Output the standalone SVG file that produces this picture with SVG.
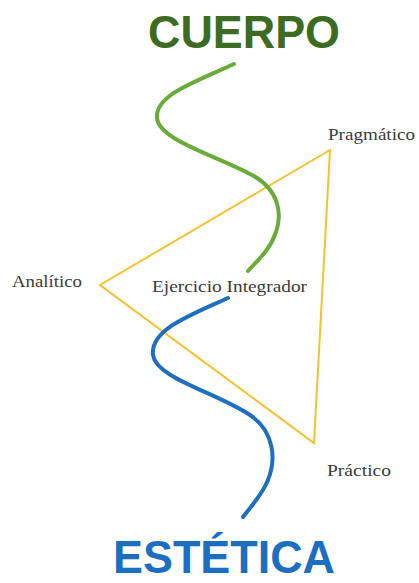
<svg xmlns="http://www.w3.org/2000/svg" width="419" height="583" viewBox="0 0 419 583">
<style>
.title{font-family:"Liberation Sans",Arial,sans-serif;font-weight:bold;font-size:47px}
.lbl{font-family:"Liberation Serif","Times New Roman",serif;font-size:17px;fill:#3b3b3b}
.curve{fill:none;stroke-width:4;stroke-linecap:round}
</style>
<rect width="419" height="583" fill="#ffffff"/>
<g id="connectors">
<polygon id="triangle" points="330,150 100,285 314,443" fill="none" stroke="#f2c230" stroke-width="2" stroke-linejoin="miter"/>
<path class="curve" stroke="#6aab3c" d="M234,64 C195,82 155,95 157,118 C159,140 215,155 252,175 C280,190 282,215 276,232 C270,250 258,260 248,271"/>
<path class="curve" stroke="#1f6fbf" d="M228,298 C190,315 150,330 153,355 C156,378 215,392 250,415 C275,432 276,460 268,480 C262,495 252,505 243,517"/>
</g>
<g id="cuerpo"><text class="title" x="148" y="48" fill="#3d6b22" textLength="192" lengthAdjust="spacingAndGlyphs">CUERPO</text></g>
<g id="estetica"><text class="title" x="113" y="573" fill="#1c6fc0" textLength="222" lengthAdjust="spacingAndGlyphs">ESTÉTICA</text></g>
<g id="pragmatico"><text class="lbl" x="328" y="140" textLength="87" lengthAdjust="spacingAndGlyphs">Pragmático</text></g>
<g id="analitico"><text class="lbl" x="12" y="287" textLength="70" lengthAdjust="spacingAndGlyphs">Analítico</text></g>
<g id="integrador"><text class="lbl" x="152" y="292" textLength="155" lengthAdjust="spacingAndGlyphs">Ejercicio Integrador</text></g>
<g id="practico"><text class="lbl" x="327" y="476" textLength="64" lengthAdjust="spacingAndGlyphs">Práctico</text></g>
</svg>
